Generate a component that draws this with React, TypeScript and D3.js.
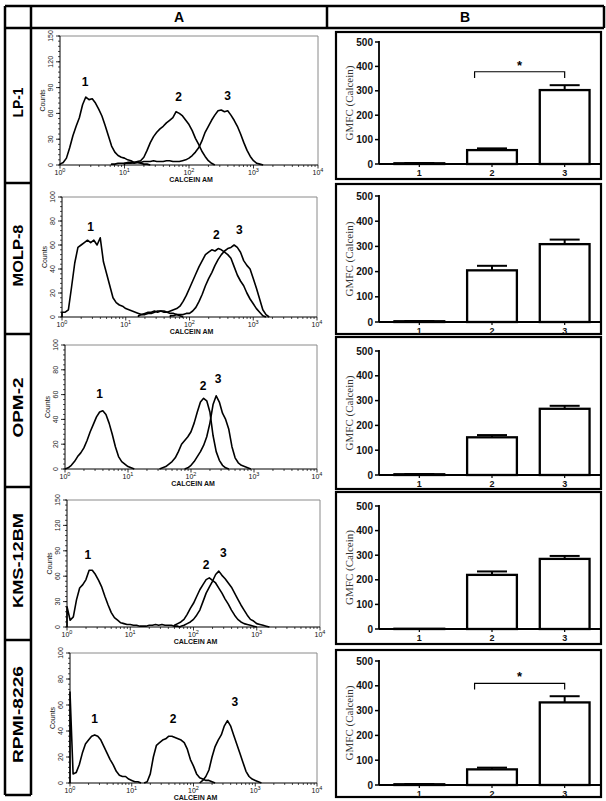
import React from 'react';
import * as d3 from 'd3';

// ---------- DATA ----------
const cellLines = ['LP-1', 'MOLP-8', 'OPM-2', 'KMS-12BM', 'RPMI-8226'];
const groups = ['1', '2', '3'];
const gmfcTicks = [0, 100, 200, 300, 400, 500];
const decadeTicks = [0, 1, 2, 3, 4];

// GMFC (Calcein) bar values and errors per cell line
const meanLP1 = [3, 57, 303];
const errLP1 = [1, 7, 20];
const meanMOLP8 = [3, 205, 309];
const errMOLP8 = [1, 18, 18];
const meanOPM2 = [3, 152, 267];
const errOPM2 = [1, 9, 12];
const meanKMS = [1, 220, 285];
const errKMS = [0, 14, 12];
const meanRPMI = [3, 63, 333];
const errRPMI = [1, 7, 25];
// significance bracket [from group, to group, bracket level, tip level, star level] or null
const sigLP1 = [2, 3, 378, 352, 405];
const sigRPMI = [2, 3, 410, 385, 438];

// histogram y-axis maxima
const countMax = [150, 100, 100, 150, 100];
const countTicks150 = [0, 30, 60, 90, 120, 150];
const countTicks100 = [0, 20, 40, 60, 80, 100];

// Histogram curves: start = log10(Calcein AM), values every 0.05 decade (Counts)
const histLP1 = [
  { start: 0.0, values: [1, 3, 8, 20, 34, 45, 55, 70, 79, 76, 77, 72, 65, 57, 46, 34, 22, 15, 11, 9, 8, 6, 5, 3, 3, 2, 1, 1, 0] },
  { start: 1.0, values: [2, 2, 2, 3, 4, 5, 9, 17, 26, 33, 38, 42, 45, 49, 52, 55, 62, 60, 57, 52, 47, 40, 31, 24, 16, 10, 5, 2, 0] },
  { start: 0.8, values: [1, 1, 2, 2, 2, 3, 3, 2, 3, 3, 4, 4, 4, 5, 4, 4, 4, 5, 5, 4, 4, 4, 5, 6, 8, 11, 15, 20, 28, 38, 45, 52, 58, 63, 64, 62, 63, 58, 52, 45, 36, 26, 17, 10, 5, 2, 1, 0] },
];
const histMOLP8 = [
  { start: 0.0, values: [4, 4, 6, 25, 45, 58, 60, 62, 64, 62, 64, 60, 66, 46, 36, 26, 16, 12, 10, 9, 7, 6, 5, 4, 3, 2, 2, 3, 3, 4, 5, 5, 4, 4, 3, 3, 2, 1, 0] },
  { start: 1.2, values: [1, 2, 3, 4, 4, 5, 4, 5, 5, 4, 5, 6, 7, 9, 13, 18, 24, 30, 36, 42, 47, 52, 54, 56, 55, 57, 56, 54, 52, 49, 42, 35, 30, 26, 20, 15, 11, 7, 4, 1, 0] },
  { start: 1.7, values: [1, 1, 2, 2, 2, 3, 3, 5, 8, 13, 19, 26, 32, 37, 43, 48, 52, 55, 57, 58, 60, 58, 54, 47, 43, 40, 32, 24, 15, 6, 2, 0] },
];
const histOPM2 = [
  { start: 0.0, values: [0, 1, 3, 6, 10, 13, 17, 23, 30, 36, 42, 46, 47, 44, 37, 28, 18, 10, 6, 4, 2, 1, 0] },
  { start: 1.5, values: [0, 1, 2, 4, 6, 9, 14, 20, 23, 26, 30, 37, 46, 54, 57, 55, 46, 27, 14, 7, 3, 1, 0] },
  { start: 1.9, values: [0, 1, 3, 6, 10, 14, 19, 26, 37, 52, 59, 54, 45, 40, 32, 18, 9, 5, 3, 2, 1, 0] },
];
const histKMS = [
  { start: 0.0, values: [24, 8, 12, 32, 46, 50, 56, 67, 67, 62, 55, 47, 36, 26, 17, 11, 8, 5, 4, 3, 3, 2, 2, 1, 1, 1, 2, 2, 3, 2, 3, 2, 2, 2, 1, 1, 0] },
  { start: 1.7, values: [2, 4, 6, 9, 15, 22, 28, 36, 44, 50, 56, 58, 55, 52, 46, 40, 33, 27, 20, 14, 9, 6, 4, 3, 2, 1, 0] },
  { start: 1.8, values: [1, 2, 4, 6, 9, 14, 20, 30, 40, 47, 54, 62, 66, 61, 57, 52, 47, 40, 33, 26, 20, 14, 9, 7, 4, 3, 2, 1, 0] },
];
const histRPMI = [
  { start: 0.0, values: [70, 7, 8, 14, 23, 30, 33, 36, 37, 36, 33, 28, 23, 18, 14, 9, 6, 5, 5, 3, 2, 1, 1, 0] },
  { start: 1.2, values: [0, 1, 7, 20, 29, 31, 33, 34, 36, 36, 35, 34, 33, 31, 26, 18, 13, 7, 4, 3, 2, 2, 1, 0] },
  { start: 2.1, values: [0, 2, 5, 10, 20, 28, 33, 37, 44, 48, 44, 37, 30, 23, 16, 9, 5, 3, 2, 1, 0] },
];
// curve number labels: [log10 x, counts]
const peakLabelsLP1 = [[0.39, 92], [1.84, 74], [2.6, 76]];
const peakLabelsMOLP8 = [[0.45, 72], [2.42, 65], [2.78, 69]];
const peakLabelsOPM2 = [[0.55, 57], [2.19, 64], [2.43, 69]];
const peakLabelsKMS = [[0.33, 80], [2.2, 68], [2.47, 83]];
const peakLabelsRPMI = [[0.4, 46], [1.67, 46], [2.67, 59]];

const means = [meanLP1, meanMOLP8, meanOPM2, meanKMS, meanRPMI];
const errs = [errLP1, errMOLP8, errOPM2, errKMS, errRPMI];
const sigs = [sigLP1, null, null, null, sigRPMI];
const hists = [histLP1, histMOLP8, histOPM2, histKMS, histRPMI];
const peakLabels = [peakLabelsLP1, peakLabelsMOLP8, peakLabelsOPM2, peakLabelsKMS, peakLabelsRPMI];

// ---------- LAYOUT ----------
const W = 606;
const H = 801;
const rowEdges = [28, 183, 334, 487, 640, 795];
const histBoxes = [
  { l: 60, r: 318, t: 36, b: 165 },
  { l: 62, r: 317, t: 197, b: 317 },
  { l: 65, r: 317, t: 345, b: 469 },
  { l: 67, r: 320, t: 500, b: 627 },
  { l: 70, r: 317, t: 653, b: 783 },
];
const barBoxes = [
  { t: 32, b: 179, y0: 164, y500: 42 },
  { t: 184, b: 334, y0: 322, y500: 196 },
  { t: 337, b: 489, y0: 475, y500: 351 },
  { t: 492, b: 644, y0: 629, y500: 506 },
  { t: 650, b: 797, y0: 785, y500: 661 },
];
const BAR_L = 336;
const BAR_R = 601;
const BAR_AXIS = 379;
const SANS = 'Liberation Sans, Arial, sans-serif';
const SERIF = 'Liberation Serif, Times New Roman, serif';

function Histogram({ idx }: { idx: number }) {
  const g = histBoxes[idx];
  const x = d3.scaleLog().domain([1, 1e4]).range([g.l, g.r]);
  const yMax = countMax[idx];
  const y = d3.scaleLinear().domain([0, yMax]).range([g.b, g.t]);
  const majors = yMax === 150 ? countTicks150 : countTicks100;
  const minorStep = (majors[1] - majors[0]) / 5;
  const minors = d3.range(0, yMax + 0.001, minorStep);
  const xMinors: number[] = [];
  for (let k = 0; k < 4; k++) for (let m = 2; m < 10; m++) xMinors.push(m * 10 ** k);
  const line = d3
    .line<[number, number]>()
    .x((d) => x(10 ** d[0]))
    .y((d) => y(Math.min(d[1], yMax)));
  return (
    <g>
      {/* frame: light top/right */}
      <line x1={g.l} x2={g.r} y1={g.t} y2={g.t} stroke="#8a8a8a" strokeWidth={1} />
      <line x1={g.r} x2={g.r} y1={g.t} y2={g.b} stroke="#8a8a8a" strokeWidth={1} />
      {/* curves */}
      {hists[idx].map((c, i) => {
        const pts: [number, number][] = [[c.start, 0]];
        c.values.forEach((v, j) => pts.push([c.start + j * 0.05, v]));
        return <path key={i} d={line(pts) || ''} fill="none" stroke="#000" strokeWidth={1.6} strokeLinejoin="round" />;
      })}
      {/* axes */}
      <line x1={g.l} x2={g.l} y1={g.t} y2={g.b} stroke="#000" strokeWidth={1} />
      <line x1={g.l} x2={g.r} y1={g.b} y2={g.b} stroke="#000" strokeWidth={1} />
      {minors.map((v, i) => (
        <line key={'ym' + i} x1={g.l - 2} x2={g.l} y1={y(v)} y2={y(v)} stroke="#000" strokeWidth={0.7} />
      ))}
      {majors.map((v) => (
        <g key={'yt' + v}>
          <line x1={g.l - 4} x2={g.l} y1={y(v)} y2={y(v)} stroke="#000" strokeWidth={0.8} />
          <text
            transform={`translate(${g.l - 7},${y(v)}) rotate(-90)`}
            textAnchor="middle"
            fontFamily={SANS}
            fontSize={7}
            fill="#222"
          >
            {v}
          </text>
        </g>
      ))}
      {xMinors.map((v, i) => (
        <line key={'xm' + i} x1={x(v)} x2={x(v)} y1={g.b} y2={g.b + 2} stroke="#000" strokeWidth={0.7} />
      ))}
      {decadeTicks.map((k) => (
        <g key={'xt' + k}>
          <line x1={x(10 ** k)} x2={x(10 ** k)} y1={g.b} y2={g.b + 3.5} stroke="#000" strokeWidth={0.8} />
          <text x={x(10 ** k)} y={g.b + 9.5} textAnchor="middle" fontFamily={SANS} fontSize={7} fill="#111">
            10
            <tspan dy={-2.5} fontSize={5.5}>
              {k}
            </tspan>
          </text>
        </g>
      ))}
      <text x={(g.l + g.r) / 2 + 2} y={g.b + 16.5} textAnchor="middle" fontFamily={SANS} fontSize={7} fontWeight="bold" fill="#111">
        CALCEIN AM
      </text>
      <text
        transform={`translate(${g.l - 15},${(g.t + g.b) / 2}) rotate(-90)`}
        textAnchor="middle"
        fontFamily={SANS}
        fontSize={7}
        fill="#111"
      >
        Counts
      </text>
      {peakLabels[idx].map((p, i) => (
        <text key={'pl' + i} x={x(10 ** p[0])} y={y(p[1])} textAnchor="middle" fontFamily={SANS} fontSize={12} fontWeight="bold">
          {groups[i]}
        </text>
      ))}
    </g>
  );
}

function BarPanel({ idx }: { idx: number }) {
  const bb = barBoxes[idx];
  const y = d3.scaleLinear().domain([0, 500]).range([bb.y0, bb.y500]);
  const x = d3.scaleBand().domain(groups).range([BAR_AXIS + 4, BAR_R]).paddingInner(0.315).paddingOuter(0.1575);
  const bw = x.bandwidth();
  const m = means[idx];
  const e = errs[idx];
  const sig = sigs[idx];
  return (
    <g>
      <rect x={BAR_L} y={bb.t} width={BAR_R - BAR_L} height={bb.b - bb.t} fill="none" stroke="#000" strokeWidth={2.2} />
      {groups.map((gname, i) => {
        const cx = (x(gname) as number) + bw / 2;
        return (
          <g key={gname}>
            {e[i] > 0 && (
              <>
                <line x1={cx} x2={cx} y1={y(m[i])} y2={y(m[i] + e[i])} stroke="#000" strokeWidth={2} />
                <line x1={cx - 15} x2={cx + 15} y1={y(m[i] + e[i])} y2={y(m[i] + e[i])} stroke="#000" strokeWidth={2} />
              </>
            )}
            <rect x={x(gname)} y={y(m[i])} width={bw} height={y(0) - y(m[i])} fill="#fff" stroke="#000" strokeWidth={2.3} />
          </g>
        );
      })}
      {/* axes */}
      <line x1={BAR_AXIS} x2={BAR_AXIS} y1={y(500) - 1} y2={y(0)} stroke="#000" strokeWidth={1.8} />
      <line x1={BAR_AXIS} x2={BAR_R} y1={y(0)} y2={y(0)} stroke="#000" strokeWidth={1.8} />
      {gmfcTicks.map((v) => (
        <g key={v}>
          <line x1={BAR_AXIS - 4} x2={BAR_AXIS} y1={y(v)} y2={y(v)} stroke="#000" strokeWidth={1.5} />
          <text x={BAR_AXIS - 6} y={y(v) + 3.5} textAnchor="end" fontFamily={SANS} fontSize={10} fontWeight="bold" fill="#111">
            {v}
          </text>
        </g>
      ))}
      {groups.map((gname) => {
        const cx = (x(gname) as number) + bw / 2;
        return (
          <g key={'xl' + gname}>
            <line x1={cx} x2={cx} y1={y(0)} y2={y(0) + 3} stroke="#000" strokeWidth={1.2} />
            <text x={cx} y={y(0) + 12} textAnchor="middle" fontFamily={SANS} fontSize={9} fontWeight="bold" fill="#111">
              {gname}
            </text>
          </g>
        );
      })}
      <text
        transform={`translate(${BAR_L + 17},${(y(0) + y(500)) / 2}) rotate(-90)`}
        textAnchor="middle"
        fontFamily={SERIF}
        fontSize={11}
        fill="#333"
      >
        GMFC (Calcein)
      </text>
      {sig && (() => {
        const xl = (x(String(sig[0])) as number) + bw * 0.15;
        const xr = (x(String(sig[1])) as number) + bw / 2;
        const yb = y(sig[2]);
        const yt = y(sig[3]);
        return (
          <g>
            <path d={`M${xl},${yt}V${yb}H${xr}V${yt}`} fill="none" stroke="#000" strokeWidth={1.2} />
            <text x={(xl + xr) / 2} y={y(sig[4]) + 5} textAnchor="middle" fontFamily={SANS} fontSize={13} fontWeight="bold">
              *
            </text>
          </g>
        );
      })()}
    </g>
  );
}

export default function App() {
  const lw = 2.5;
  const labelLengths = [30, 62, 60, 95, 97];
  return (
    <div style={{ position: 'absolute', left: 0, top: 0 }}>
      <svg width={W} height={H} viewBox={`0 0 ${W} ${H}`} style={{ display: 'block', background: '#fff' }}>
        <rect x={0} y={0} width={W} height={H} fill="#fff" />
        {/* header row */}
        <line x1={5} x2={604} y1={6} y2={6} stroke="#000" strokeWidth={lw} />
        <line x1={5} x2={604} y1={rowEdges[0]} y2={rowEdges[0]} stroke="#000" strokeWidth={lw} />
        {[5, 31, 327, 604].map((xx) => (
          <line key={xx} x1={xx} x2={xx} y1={6} y2={rowEdges[0]} stroke="#000" strokeWidth={lw} />
        ))}
        <text x={179} y={22} textAnchor="middle" fontFamily={SANS} fontSize={14} fontWeight="bold">
          A
        </text>
        <text x={465} y={22} textAnchor="middle" fontFamily={SANS} fontSize={14} fontWeight="bold">
          B
        </text>
        {/* label column */}
        <line x1={5} x2={5} y1={rowEdges[0]} y2={rowEdges[5]} stroke="#000" strokeWidth={lw} />
        <line x1={31} x2={31} y1={rowEdges[0]} y2={rowEdges[5]} stroke="#000" strokeWidth={lw} />
        {rowEdges.slice(1).map((yy) => (
          <line key={yy} x1={5} x2={31} y1={yy} y2={yy} stroke="#000" strokeWidth={lw} />
        ))}
        {cellLines.map((name, i) => (
          <text
            key={name}
            transform={`translate(${23},${(rowEdges[i] + rowEdges[i + 1]) / 2 - 3}) rotate(-90)`}
            textAnchor="middle"
            fontFamily={SANS}
            fontSize={15}
            fontWeight="bold"
            textLength={labelLengths[i]}
            lengthAdjust="spacingAndGlyphs"
          >
            {name}
          </text>
        ))}
        {cellLines.map((name, i) => (
          <Histogram key={'h' + name} idx={i} />
        ))}
        {cellLines.map((name, i) => (
          <BarPanel key={'b' + name} idx={i} />
        ))}
      </svg>
    </div>
  );
}
